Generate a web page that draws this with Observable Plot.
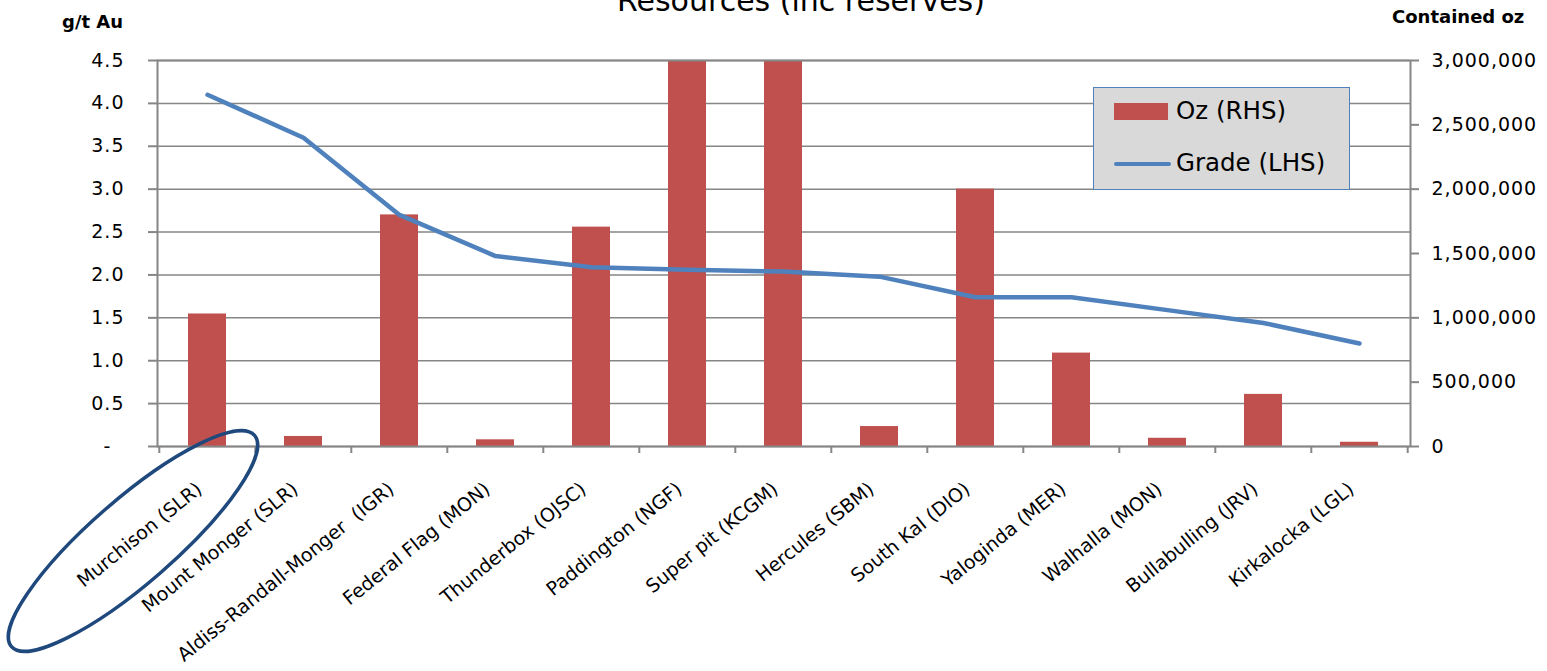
<!DOCTYPE html>
<html>
<head>
<meta charset="utf-8">
<script src="https://cdn.jsdelivr.net/npm/d3@7"></script>
<script src="https://cdn.jsdelivr.net/npm/@observablehq/plot@0.6"></script>
<style>
  html, body { margin: 0; padding: 0; background: #fff; }
  #wrap { position: relative; width: 1547px; height: 671px; overflow: hidden; font-family: "DejaVu Sans", sans-serif; color: #000; }
  #title { position: absolute; left: 801px; top: -14px; transform: translateX(-50%); white-space: nowrap; font-size: 30px; line-height: 1; }
  .axt { position: absolute; font-weight: bold; font-size: 18px; white-space: nowrap; line-height: 1; }
  #legend { position: absolute; left: 1093px; top: 87px; width: 255px; height: 101px; background: #D9D9D9; border: 1.5px solid #4F81BD; }
  .lg { position: absolute; font-size: 24.5px; line-height: 1; white-space: nowrap; }
  svg text { white-space: pre; }
  svg [aria-label="y-axis tick label"] { letter-spacing: 1px; }
</style>
</head>
<body>
<div id="wrap">
  <div id="title">Resources (inc reserves)</div>
  <div class="axt" id="lt" style="left:62px; top:13px;">g/t Au</div>
  <div class="axt" id="rt" style="left:1392px; top:8px;">Contained oz</div>
  <div id="chart"></div>
  <div id="legend">
    <div style="position:absolute; left:20px; top:15px; width:54px; height:17px; background:#C0504D;"></div>
    <div class="lg" style="left:82px; top:11px;">Oz (RHS)</div>
    <div style="position:absolute; left:20px; top:74px; width:57px; height:4px; border-radius:2px; background:#4F81BD;"></div>
    <div class="lg" style="left:82px; top:63px;">Grade (LHS)</div>
  </div>
</div>
<script>
// ---- data ----
const sites = [
  "Murchison (SLR)", "Mount Monger (SLR)", "Aldiss-Randall-Monger  (IGR)", "Federal Flag (MON)",
  "Thunderbox (OJSC)", "Paddington (NGF)", "Super pit (KCGM)", "Hercules (SBM)",
  "South Kal (DIO)", "Yaloginda (MER)", "Walhalla (MON)", "Bullabulling (JRV)", "Kirkalocka (LGL)"
];
// contained ounces (right axis); Paddington and Super pit run off the top of the chart
const ozValues = [1030000, 78000, 1800000, 52000, 1705000, 3900000, 9000000, 155000, 2000000, 726000, 64000, 405000, 33000];
// grade g/t Au (left axis)
const gradeValues = [4.10, 3.60, 2.70, 2.22, 2.09, 2.06, 2.04, 1.98, 1.74, 1.74, 1.59, 1.44, 1.20];
const gradeTicks = [0, 0.5, 1, 1.5, 2, 2.5, 3, 3.5, 4, 4.5];
const ozTicks = [0, 500000, 1000000, 1500000, 2000000, 2500000, 3000000];

const data = sites.map((s, i) => ({site: s, oz: ozValues[i], grade: gradeValues[i]}));
const gradeMax = gradeTicks[gradeTicks.length - 1];
const ozMax = ozTicks[ozTicks.length - 1];
const k = gradeMax / ozMax; // oz -> left-axis units

const W = 1547, H = 671, ML = 157, MR = 137, MT = 60, MB = 225;
const step = (W - ML - MR) / sites.length;
const grey = "#868686";

const chart = Plot.plot({
  width: W, height: H,
  marginLeft: ML, marginRight: MR, marginTop: MT, marginBottom: MB,
  style: {fontFamily: "DejaVu Sans, sans-serif", color: "#000", background: "transparent", overflow: "visible"},
  x: {domain: sites, paddingInner: 0.6, paddingOuter: 0.3, label: null},
  y: {domain: [0, gradeMax], label: null},
  marks: [
    Plot.gridY(gradeTicks, {stroke: grey, strokeOpacity: 1, strokeWidth: 1.5}),
    Plot.barY(data, {x: "site", y: d => d.oz * k, fill: "#C0504D", clip: true}),
    Plot.frame({stroke: grey, strokeWidth: 2}),
    Plot.ruleX(sites, {x: d => d, dx: -step / 2, y1: 0, y2: 0, insetBottom: -7, stroke: grey, strokeWidth: 2}),
    Plot.ruleX(sites.slice(-1), {x: d => d, dx: step / 2, y1: 0, y2: 0, insetBottom: -7, stroke: grey, strokeWidth: 2}),
    Plot.lineY(data, {x: "site", y: "grade", stroke: "#4F81BD", strokeWidth: 4.5, strokeLinecap: "round", strokeLinejoin: "round"}),
    Plot.axisY(gradeTicks, {anchor: "left", tickFormat: d => d === 0 ? "-\u2007" : d.toFixed(1), tickSize: 9, tickPadding: 24, stroke: grey, strokeWidth: 2, strokeOpacity: 1, fontSize: 19, label: null}),
    Plot.axisY(ozTicks.map(v => v * k), {anchor: "right", tickFormat: d => d3.format(",")(Math.round(d / k)), tickSize: 8, tickPadding: 13, stroke: grey, strokeWidth: 2, strokeOpacity: 1, fontSize: 19, label: null}),
    Plot.axisX({tickRotate: -39, tickSize: 0, tickPadding: 12, dx: -8, dy: 28, fontSize: 19, label: null})
  ]
});
document.getElementById("chart").appendChild(chart);

// hand-drawn annotation ellipse around the first category label
const xs = chart.scale("x");
const cx = xs.apply(sites[0]) + xs.bandwidth / 2 - 74;
const cy = H - MB + 95;
d3.select(chart).append("ellipse")
  .attr("cx", cx).attr("cy", cy).attr("rx", 161).attr("ry", 42)
  .attr("transform", `rotate(-41 ${cx} ${cy})`)
  .attr("fill", "none").attr("stroke", "#1F497D").attr("stroke-width", 3.5);
</script>
</body>
</html>
